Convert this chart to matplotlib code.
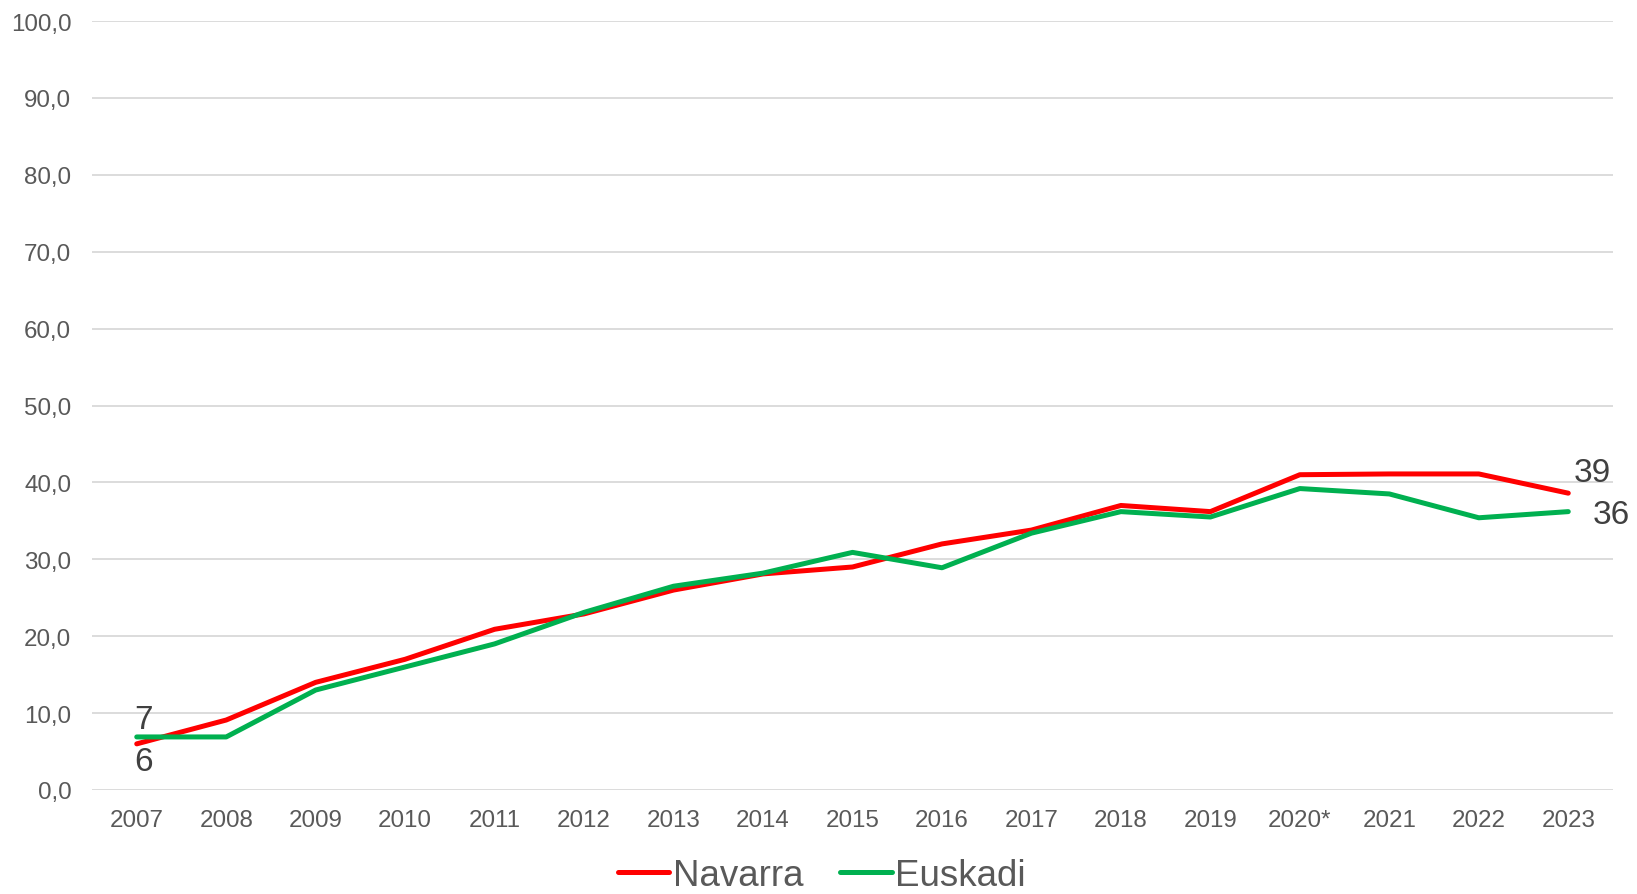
import matplotlib
matplotlib.use("Agg")
import matplotlib.pyplot as plt
from matplotlib.ticker import FuncFormatter

plt.rcParams['font.family'] = ['Liberation Sans', 'DejaVu Sans']

years = ["2007", "2008", "2009", "2010", "2011", "2012", "2013", "2014", "2015",
         "2016", "2017", "2018", "2019", "2020*", "2021", "2022", "2023"]
navarra = [6.0, 9.1, 14.0, 17.0, 20.9, 22.9, 26.0, 28.1, 29.0,
           32.0, 33.8, 37.0, 36.2, 41.0, 41.1, 41.1, 38.6]
euskadi = [6.9, 6.9, 13.0, 16.0, 19.0, 23.1, 26.5, 28.2, 30.9,
           28.9, 33.4, 36.2, 35.5, 39.2, 38.5, 35.4, 36.2]

RED = "#FF0000"
GREEN = "#00B050"
TXT = "#595959"
LBL = "#404040"

fig = plt.figure(figsize=(16.37, 8.95), dpi=100)
ax = fig.add_axes([92/1637, 1 - 791/895, (1613-92)/1637, (791-22)/895])

x = list(range(len(years)))
ax.plot(x, navarra, color=RED, lw=3.6, solid_capstyle='round', label="Navarra", zorder=3)
ax.plot(x, euskadi, color=GREEN, lw=3.6, solid_capstyle='round', label="Euskadi", zorder=3)

ax.set_xlim(-0.5, len(years) - 0.5)
ax.set_ylim(0, 100)
ax.set_yticks(range(0, 101, 10))
ax.yaxis.set_major_formatter(FuncFormatter(lambda v, p: f"{v:.1f}".replace('.', ',')))
ax.set_xticks(x)
ax.set_xticklabels(years)
ax.tick_params(axis='both', length=0, labelsize=17.4, labelcolor=TXT)
ax.tick_params(axis='y', pad=15)
ax.tick_params(axis='x', pad=13.5)
ax.grid(axis='y', color="#D9D9D9", lw=1.3)
ax.set_axisbelow(True)
for s in ax.spines.values():
    s.set_visible(False)

fs = 24
ax.annotate(f"{euskadi[0]:.0f}", (x[0], euskadi[0]), xytext=(-2, 17), textcoords='offset pixels',
            ha='left', va='center', fontsize=fs, color=LBL)
ax.annotate(f"{navarra[0]:.0f}", (x[0], navarra[0]), xytext=(-2, -18), textcoords='offset pixels',
            ha='left', va='center', fontsize=fs, color=LBL)
ax.annotate(f"{navarra[-1]:.0f}", (x[-1], navarra[-1]), xytext=(5, 21), textcoords='offset pixels',
            ha='left', va='center', fontsize=fs, color=LBL)
ax.annotate(f"{euskadi[-1]:.0f}", (x[-1], euskadi[-1]), xytext=(24, -3), textcoords='offset pixels',
            ha='left', va='center', fontsize=fs, color=LBL)

leg = fig.legend(loc='lower center', bbox_to_anchor=(0.502, -0.036), ncol=2, frameon=False,
                 fontsize=26.5, handlelength=1.4, handletextpad=0.1, columnspacing=1.0,
                 labelcolor=TXT)

fig.savefig("out.png", dpi=100)
